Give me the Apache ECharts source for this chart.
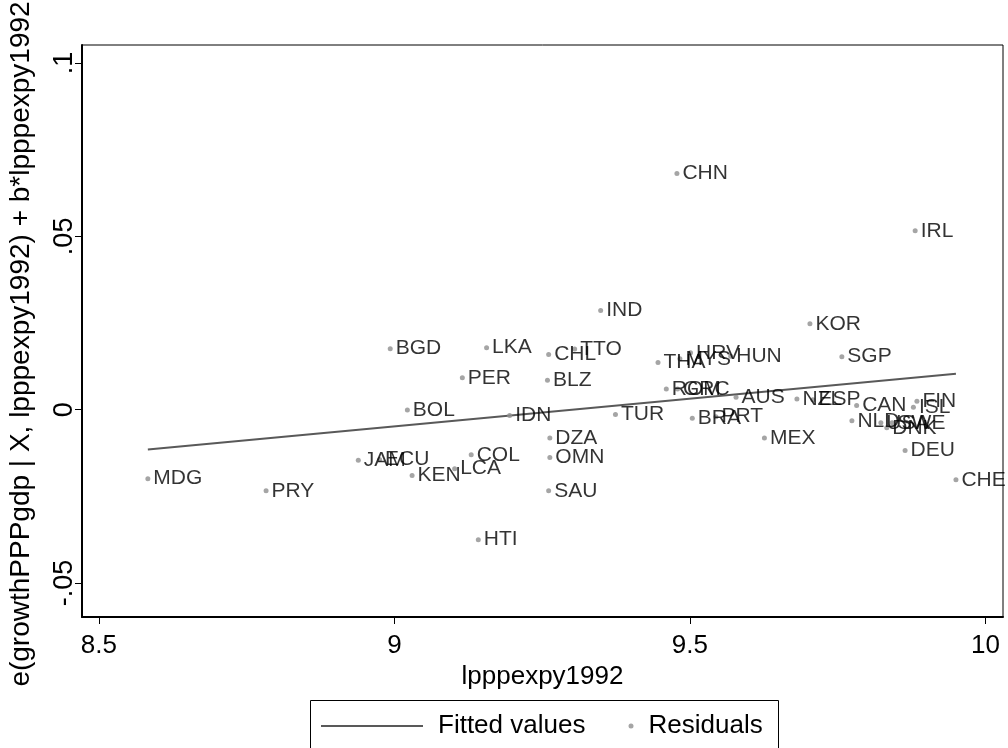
<!DOCTYPE html>
<html>
<head>
<meta charset="utf-8">
<script src="https://cdn.jsdelivr.net/npm/echarts@6/dist/echarts.min.js"></script>
<style>
html,body{margin:0;padding:0;background:#fff;}
#chart{width:1008px;height:748px;}
</style>
</head>
<body>
<div id="chart"></div>
<script>
// ---- data ----
const countries = ['CHN','IRL','IND','KOR','BGD','LKA','CHL','TTO','BLZ','TUR','DZA','OMN','SAU','HTI','PER','BOL','IDN','MDG','PRY','JAM','ECU','KEN','LCA','COL','THA','MYS','HRV','HUN','ROM','GRC','BRA','PRT','AUS','NZL','ESP','MEX','SGP','CAN','NLD','FIN','ISL','USA','SWE','DNK','DEU','CHE'];
const xValues = [9.478,9.881,9.349,9.703,8.993,9.156,9.261,9.305,9.259,9.374,9.263,9.263,9.261,9.142,9.115,9.022,9.195,8.583,8.783,8.939,8.975,9.030,9.102,9.130,9.446,9.483,9.501,9.569,9.460,9.479,9.504,9.544,9.578,9.681,9.708,9.626,9.757,9.782,9.774,9.884,9.878,9.823,9.842,9.833,9.864,9.950];
const yValues = [0.0681,0.0516,0.0286,0.0248,0.0176,0.0179,0.0159,0.0175,0.0085,-0.0014,-0.0082,-0.0138,-0.0234,-0.0375,0.0092,-0.0001,-0.0017,-0.0199,-0.0234,-0.0146,-0.0144,-0.0190,-0.0170,-0.0130,0.0136,0.0147,0.0164,0.0154,0.0060,0.0060,-0.0025,-0.0020,0.0036,0.0031,0.0029,-0.0082,0.0153,0.0012,-0.0032,0.0024,0.0007,-0.0038,-0.0038,-0.0052,-0.0118,-0.0202];
const fitX = [8.583, 9.950];
const fitY = [-0.0115, 0.0104];
const xTickValues = [8.5, 9, 9.5, 10];
const xTickLabels = ['8.5', '9', '9.5', '10'];
const yTickValues = [-0.05, 0, 0.05, 0.1];
const yTickLabels = ['-.05', '0', '.05', '.1'];

const FONT = 'Liberation Sans, Arial, sans-serif';
const scatterData = countries.map((c, i) => ({ name: c, value: [xValues[i], yValues[i]] }));
const fitData = fitX.map((x, i) => [x, fitY[i]]);

const chart = echarts.init(document.getElementById('chart'), null, { renderer: 'canvas' });
chart.setOption({
  animation: false,
  backgroundColor: '#fff',
  textStyle: { fontFamily: FONT },
  grid: { left: 82, right: 5, top: 45, bottom: 131, show: true, borderColor: '#000', borderWidth: 1,
    backgroundColor: 'transparent', containLabel: false, outerBoundsMode: 'none' },
  xAxis: {
    type: 'value', min: 8.4716, max: 10.0296,
    name: 'lpppexpy1992', nameLocation: 'middle', nameGap: 45,
    nameTextStyle: { fontSize: 26, color: '#000', fontFamily: FONT },
    axisLine: { show: true, onZero: false, lineStyle: { color: '#000', width: 2 } },
    axisTick: { show: true, length: 7, lineStyle: { color: '#000', width: 1 }, customValues: xTickValues },
    axisLabel: { fontSize: 26, color: '#000', margin: 16, fontFamily: FONT, customValues: xTickValues,
      formatter: v => { const k = xTickValues.findIndex(t => Math.abs(t - v) < 1e-9); return k >= 0 ? xTickLabels[k] : ''; } },
    splitLine: { show: false }
  },
  yAxis: {
    type: 'value', min: -0.0598, max: 0.1052,
    name: 'e(growthPPPgdp | X, lpppexpy1992) + b*lpppexpy1992', nameLocation: 'middle', nameGap: 47, nameRotate: 90,
    nameTextStyle: { fontSize: 28, color: '#000', fontFamily: FONT, padding: [0, 26, 0, 0] },
    axisLine: { show: true, onZero: false, lineStyle: { color: '#000', width: 2 } },
    axisTick: { show: true, length: 7, lineStyle: { color: '#000', width: 1 }, customValues: yTickValues },
    axisLabel: { fontSize: 27, color: '#000', margin: 4, rotate: 90, fontFamily: FONT, customValues: yTickValues,
      formatter: v => { const k = yTickValues.findIndex(t => Math.abs(t - v) < 1e-9); return k >= 0 ? yTickLabels[k] : ''; } },
    splitLine: { show: false }
  },
  legend: [
    { data: [{ name: 'Fitted values', icon: 'rect' }], left: 321, top: 713, padding: 0, itemWidth: 102, itemHeight: 2,
      symbolKeepAspect: false, itemStyle: { color: '#595959' },
      textStyle: { fontSize: 26, color: '#000', fontFamily: FONT, padding: [0, 0, 0, 10] } },
    { data: ['Residuals'], left: 628.5, top: 713, padding: 0, itemWidth: 5, itemHeight: 5, itemGap: 0,
      textStyle: { fontSize: 26, color: '#000', fontFamily: FONT, padding: [0, 0, 0, 10] } }
  ],
  graphic: [
    { type: 'rect', left: 310, top: 700, shape: { x: 0, y: 0, width: 468, height: 70 },
      style: { fill: 'transparent', stroke: '#000', lineWidth: 1 }, silent: true, z: 0 }
  ],
  series: [
    {
      name: 'Fitted values', type: 'line', data: fitData, showSymbol: false, symbol: 'none',
      lineStyle: { color: '#595959', width: 2 }, itemStyle: { color: '#595959' }, z: 2
    },
    {
      name: 'Residuals', type: 'scatter', data: scatterData, symbol: 'circle', symbolSize: 5,
      itemStyle: { color: '#8f8f8f' }, z: 3,
      label: { show: true, position: 'right', distance: 3, formatter: p => p.name,
        fontSize: 21, color: '#000', fontFamily: FONT }
    }
  ]
});
</script>
</body>
</html>
